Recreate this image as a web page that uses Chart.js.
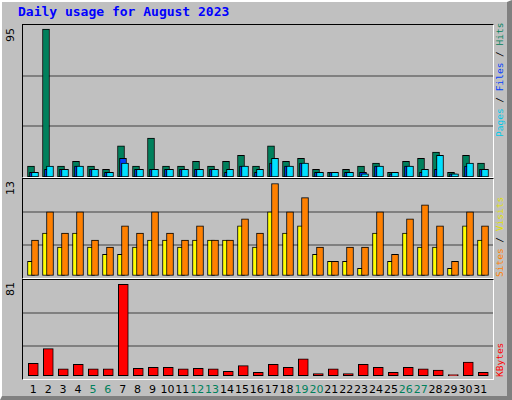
<!DOCTYPE html>
<html><head><meta charset="utf-8">
<script src="https://cdn.jsdelivr.net/npm/chart.js@4"></script>
<style>
body{margin:0;}
#frame{position:relative;width:512px;height:400px;background:#c0c0c0;box-sizing:border-box;border-left:2px solid #fff;border-top:2px solid #fff;border-right:5px solid #808080;border-bottom:4px solid #808080;overflow:hidden;}
.t{position:absolute;white-space:nowrap;}
.panel{position:absolute;left:20px;width:470px;border-top:1px solid #000;border-left:1px solid #000;border-right:1px solid #fff;border-bottom:1px solid #fff;}
.panel canvas{display:block;}
.v{position:absolute;transform-origin:0 0;transform:rotate(-90deg);white-space:nowrap;font-family:"DejaVu Sans Mono",monospace;font-size:9.5px;line-height:12px;}
.d{position:absolute;top:381px;width:20px;text-align:center;font-family:"DejaVu Sans",sans-serif;font-size:11px;}
</style></head><body>
<div id="frame">
<div class="t" style="left:16px;top:2px;font-family:'DejaVu Sans Mono',monospace;font-weight:bold;font-size:13px;color:#0000ff;">Daily usage for August 2023</div>
<div class="panel" style="top:22px;height:152px;"><canvas id="c1" width="470" height="152"></canvas></div>
<div class="panel" style="top:176px;height:99px;"><canvas id="c2" width="470" height="99"></canvas></div>
<div class="panel" style="top:277px;height:99px;"><canvas id="c3" width="470" height="99"></canvas></div>
<div class="v" style="left:3px;top:40px;font-family:'DejaVu Sans',sans-serif;font-size:11px;">95</div>
<div class="v" style="left:3px;top:193px;font-family:'DejaVu Sans',sans-serif;font-size:11px;">13</div>
<div class="v" style="left:3px;top:294px;font-family:'DejaVu Sans',sans-serif;font-size:11px;">81</div>
<div class="v" style="left:492px;top:135px;"><span style="color:#00c8e8">Pages</span> / <span style="color:#0040ff">Files</span> / <span style="color:#00805c">Hits</span></div>
<div class="v" style="left:492px;top:275px;"><span style="color:#ff8000">Sites</span> / <span style="color:#e0e000">Visits</span></div>
<div class="v" style="left:492px;top:375px;color:#ff0000;">KBytes</div>
<div id="days"></div>
</div>
<script>
const days = Array.from({length:31},(_,i)=>i+1);
const weekend = [5,6,12,13,19,20,26,27];
const hits  = [7,95,7,10,7,5,20,7,25,7,7,10,7,10,14,7,20,10,12,5,3,5,7,9,3,10,12,16,3,14,9];
const files = [3,5,5,7,5,3,12,5,5,5,5,5,5,3,7,3,9,7,9,3,3,3,3,7,2,7,3,5,2,7,5];
const pages = [3,7,5,7,5,3,9,5,5,5,5,5,5,5,7,5,12,7,9,3,3,3,2,7,3,7,5,14,2,9,5];
const sites = [2,6,4,6,4,3,3,4,5,5,4,5,5,5,7,4,9,6,7,3,2,2,1,6,2,6,4,4,1,7,5];
const visits= [5,9,6,9,5,4,7,6,9,6,5,7,5,5,8,6,13,9,11,4,2,4,4,9,3,8,10,7,2,9,7];
const kbytes= [11,24,6,10,6,6,81,6.5,7.5,7.5,6,6.5,6,4,9,3,10,7.5,15,2,6,2,10,7.5,3,7.5,6,5,1,12,3];

const dl = document.getElementById('days');
days.forEach(d=>{const e=document.createElement('div');e.className='d';e.textContent=d;
 e.style.left=(18.4+14.9*d-10-2)+'px';e.style.color=weekend.includes(d)?'#00805c':'#000';dl.appendChild(e);});

const gridPlugin={id:'g',beforeDatasetsDraw(c){const a=c.chartArea,x=c.ctx;x.save();x.strokeStyle='#808080';x.lineWidth=2;
 for(const f of [1/3,2/3]){const y=Math.round(a.top+(a.bottom-a.top)*f);x.beginPath();x.moveTo(a.left,y);x.lineTo(a.right,y);x.stroke();}x.restore();}};
const D0=0.4667,D1=31.8,PX=15;
function xAxis(s){return {type:'linear',display:false,offset:false,bounds:'ticks',min:D0-s/PX,max:D1-s/PX};}
function ds(data,color,axis,order,w){return {data:data.map((v,i)=>({x:days[i],y:v})),backgroundColor:color,borderColor:'#000',borderWidth:1,borderSkipped:false,barThickness:w,xAxisID:axis,order:order,grouped:false};}
function make(id,sets,axes,ymin,ymax){
 const scales={y:{display:false,min:ymin,max:ymax}};Object.assign(scales,axes);
 new Chart(document.getElementById(id),{type:'bar',data:{datasets:sets},plugins:[gridPlugin],
  options:{responsive:false,animation:false,devicePixelRatio:1,layout:{padding:0},plugins:{legend:{display:false},tooltip:{enabled:false}},scales}});
}
make('c1',[ds(hits,'#00805c','xh',3,7),ds(files,'#0040ff','xf',2,7),ds(pages,'#00e0ff','xp',1,7)],
 {xh:xAxis(0),xf:xAxis(2),xp:xAxis(4)},0,97.7);
make('c2',[ds(sites,'#ffff00','xs',2,7),ds(visits,'#ff8000','xv',1,7)],
 {xs:xAxis(0),xv:xAxis(4)},-0.35,13.63);
make('c3',[ds(kbytes,'#ff0000','xk',1,10)],{xk:xAxis(2.3)},-2.9,84.8);
</script>
</body></html>
